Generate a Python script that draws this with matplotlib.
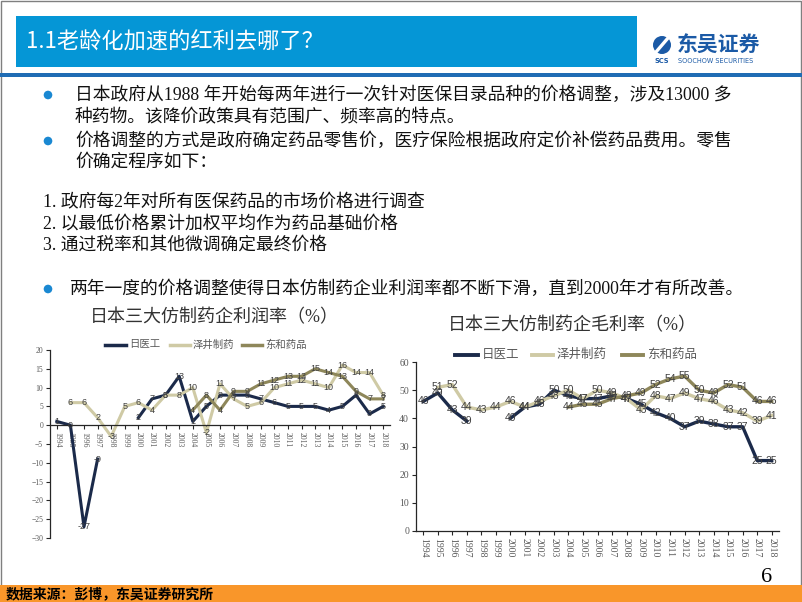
import numpy as np
import matplotlib.pyplot as plt
from matplotlib.patches import Rectangle, Circle

W, H = 802, 602
SERIF_CJK = ['Liberation Serif', 'Noto Sans CJK SC']
SANS_CJK = ['Noto Sans CJK SC', 'DejaVu Sans']
plt.rcParams['font.family'] = SERIF_CJK

nan = np.nan
years = list(range(1994, 2019))

# 利润率 (%)
profit_nichiiko = [1, 0, -27, -9, nan, nan, 2, 7, 8, 13, 1, 5, 8, 8, 8, 7, 6, 5, 5, 5, 4, 5, 8, 3, 5]
profit_sawai = [nan, 6, 6, 2, -3, 5, 6, 4, 8, 8, 10, -2, 11, 7, 5, 6, 10, 11, 12, 11, 10, 16, 14, 14, 8]
profit_towa = [nan] * 10 + [4, 8, 4, 9, 9, 11, 12, 13, 13, 15, 14, 13, 9, 7, 7]

# 毛利率 (%)
gross_nichiiko = [46, 49, 43, 39, nan, nan, 40, 44, 45, 50, 48, 47, 47, 48, 47, 45, 42, 40, 37, 39, 38, 37, 37, 25, 25]
gross_sawai = [nan, 51, 52, 44, 43, 44, 46, 44, 46, 48, 50, 47, 50, 49, 47, 43, 48, 47, 49, 47, 46, 43, 42, 39, 41]
gross_towa = [nan] * 10 + [44, 45, 45, 47, 48, 49, 52, 54, 55, 50, 49, 52, 51, 46, 46]

series_names = ['日医工', '泽井制药', '东和药品']
colors = ['#1B2A4A', '#CFCAA5', '#8E875A']

bullets = [
    ('日本政府从1988 年开始每两年进行一次针对医保目录品种的价格调整，涉及13000 多', 75, 95, True),
    ('种药物。该降价政策具有范围广、频率高的特点。', 75, 118, False),
    ('价格调整的方式是政府确定药品零售价，医疗保险根据政府定价补偿药品费用。零售', 75, 141, True),
    ('价确定程序如下：', 75, 162, False),
    ('1. 政府每2年对所有医保药品的市场价格进行调查', 43, 203, False),
    ('2. 以最低价格累计加权平均作为药品基础价格', 43, 224, False),
    ('3. 通过税率和其他微调确定最终价格', 43, 245, False),
    ('两年一度的价格调整使得日本仿制药企业利润率都不断下滑，直到2000年才有所改善。', 70, 289, True),
]

fig = plt.figure(figsize=(W / 100, H / 100), dpi=100)

# page decorations in pixel coordinates
bg = fig.add_axes([0, 0, 1, 1], zorder=0)
bg.set_xlim(0, W)
bg.set_ylim(H, 0)
bg.axis('off')

bg.add_patch(Rectangle((0.5, 0.5), W - 1.5, H - 1.5, fill=False, ec='#7F7F7F', lw=1))
bg.add_patch(Rectangle((16, 16), 621, 51, color='#0596D6', lw=0))
bg.text(26, 42, '1.1老龄化加速的红利去哪了？', color='white', fontsize=16,
        va='center', family=SANS_CJK)
bg.add_patch(Rectangle((0, 73), W, 4, color='#1F6CB4', lw=0))

# logo
bg.add_patch(Circle((662, 45), 9, color='#1B5AA6', lw=0))
bg.plot([656, 668], [52, 38], color='white', lw=2.4)
bg.text(662, 61, 'SCS', color='#1B5AA6', fontsize=4.8, ha='center', va='center',
        family='DejaVu Sans', weight='bold')
bg.text(677, 45, '东吴证券', color='#1B5AA6', fontsize=15, va='center',
        family=SANS_CJK, weight='bold')
bg.text(678, 61, 'SOOCHOW SECURITIES', color='#1B5AA6', fontsize=4.7, va='center',
        family='DejaVu Sans')

for text, x, y, dot in bullets:
    if dot:
        bg.add_patch(Circle((48, y), 4.3, color='#1A88D2', lw=0))
    bg.text(x, y, text, fontsize=12.8, va='center', color='#111111')

bg.add_patch(Rectangle((0, 585), W, 17, color='#F9962A', lw=0))
bg.text(6, 594, '数据来源：彭博，东吴证券研究所', fontsize=10, va='center',
        weight='bold', color='black')
bg.text(767, 578, '6', fontsize=16, ha='center', va='center', color='black')

# chart titles and legends
bg.text(90, 318, '日本三大仿制药企利润率（%）', fontsize=13, va='center', color='#333333')
bg.text(448, 326, '日本三大仿制药企毛利率（%）', fontsize=13, va='center', color='#333333')

legend_left = [(105, 126), (170, 190), (242, 262)]
for (x0, x1), name, c in zip(legend_left, series_names, colors):
    bg.plot([x0, x1], [345, 345], color=c, lw=2.5)
    bg.text(x1 + 3, 345, name, fontsize=7.5, va='center', color='#595959')

legend_right = [(455, 478), (532, 553), (622, 643)]
for (x0, x1), name, c in zip(legend_right, series_names, colors):
    bg.plot([x0, x1], [355, 355], color=c, lw=2.8)
    bg.text(x1 + 4, 355, name, fontsize=9, va='center', color='#595959')


def px_axes(x0, y0, x1, y1):
    ax = fig.add_axes([x0 / W, 1 - y1 / H, (x1 - x0) / W, (y1 - y0) / H], zorder=2)
    ax.patch.set_alpha(0)
    return ax


def draw_chart(ax, data, ylim, yticks, label_size, tick_size, lw, zero_axis=False):
    for s in ['top', 'right']:
        ax.spines[s].set_visible(False)
    for s in ['left', 'bottom']:
        ax.spines[s].set_color('#262626')
        ax.spines[s].set_linewidth(0.9)
    if zero_axis:
        ax.spines['bottom'].set_position(('data', 0))
    for vals, c in zip(data, colors):
        ax.plot(years, vals, color=c, lw=lw, solid_joinstyle='round')
    for vals in data:
        for yr, v in zip(years, vals):
            if not np.isnan(v):
                ax.text(yr, v, f'{v:g}', fontsize=label_size, ha='center', va='center',
                        color='#404040', family='Liberation Sans')
    ax.set_xlim(1993.5, 2018.5)
    ax.set_ylim(*ylim)
    ax.set_yticks(yticks)
    ax.set_xticks(years)
    ax.set_xticklabels([str(y) for y in years])
    ax.tick_params(axis='both', direction='out', length=3, width=0.8, color='#262626',
                   labelsize=tick_size, labelcolor='#595959', pad=2)
    ax.tick_params(axis='x', labelrotation=-90)


ax1 = px_axes(50, 350, 390, 538)
draw_chart(ax1, [profit_nichiiko, profit_sawai, profit_towa], (-30, 20),
           range(-30, 25, 5), 6.5, 5.5, 2.2, zero_axis=True)

ax2 = px_axes(416, 362, 779, 531)
draw_chart(ax2, [gross_nichiiko, gross_sawai, gross_towa], (0, 60),
           range(0, 70, 10), 7.5, 7, 2.4)

fig.savefig('out.png', dpi=100)
